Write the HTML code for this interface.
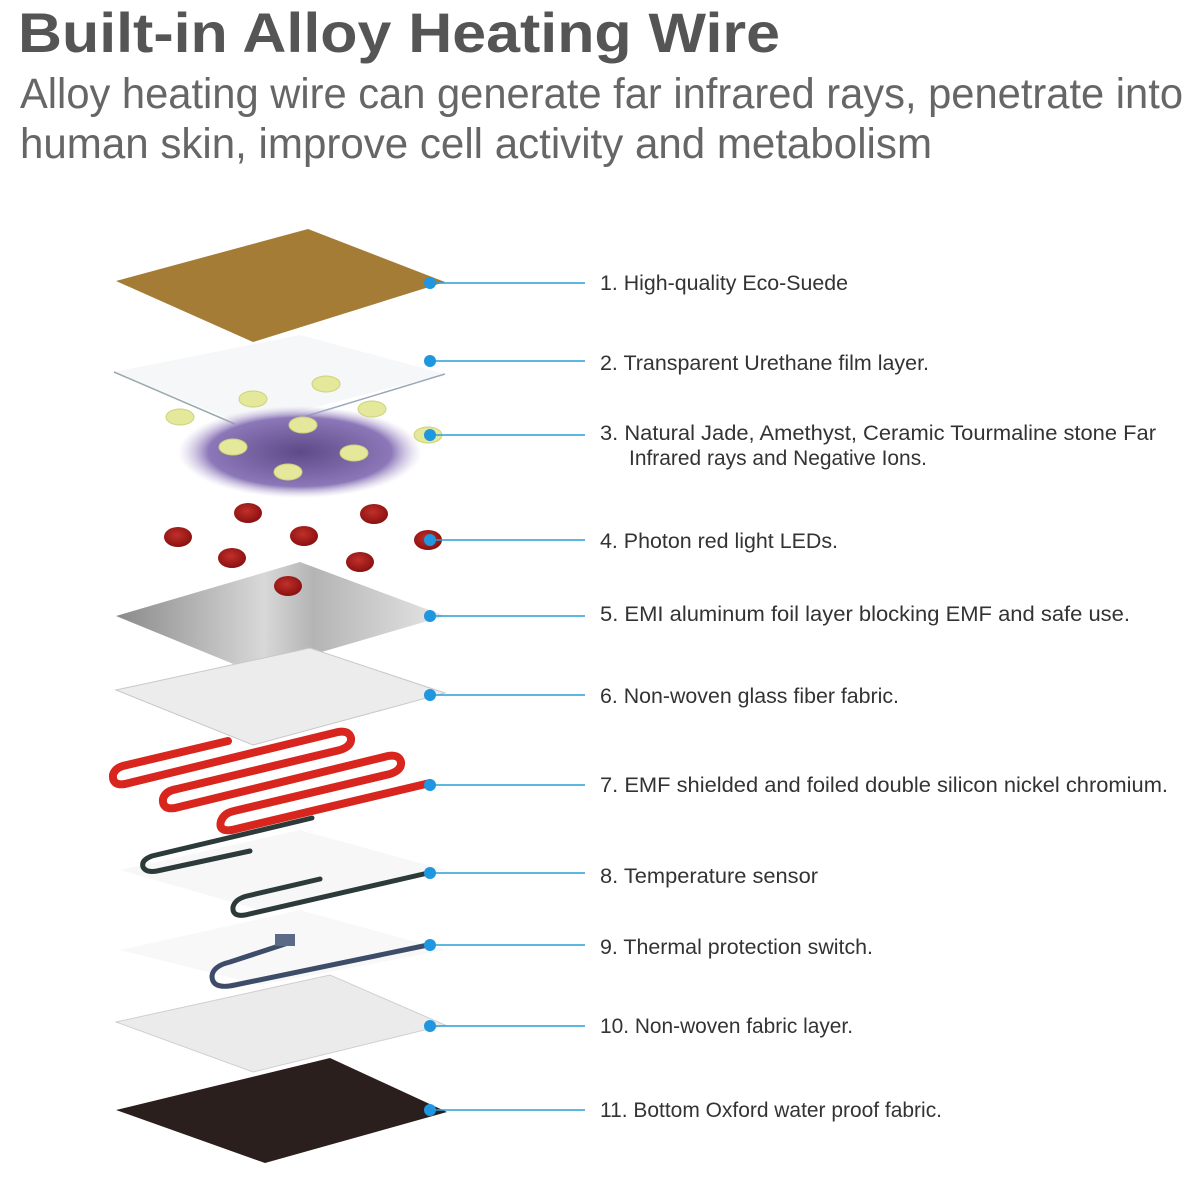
<!DOCTYPE html>
<html><head><meta charset="utf-8"><style>
html,body{margin:0;padding:0;background:#fff;}
svg{display:block;}
text{font-family:"Liberation Sans",sans-serif;}
</style></head><body>
<svg width="1200" height="1200" viewBox="0 0 1200 1200" xmlns="http://www.w3.org/2000/svg">
<defs>
<linearGradient id="al" x1="0" y1="0" x2="1" y2="0">
<stop offset="0" stop-color="#8a8a8a"/><stop offset="0.45" stop-color="#d8d8d8"/><stop offset="0.6" stop-color="#b4b4b4"/><stop offset="1" stop-color="#e6e6e6"/></linearGradient>
<radialGradient id="pur" cx="0.5" cy="0.5" r="0.5">
<stop offset="0" stop-color="#5e4a88"/><stop offset="0.75" stop-color="#8c78b8"/><stop offset="1" stop-color="#c9bfe0" stop-opacity="0"/></radialGradient>
<radialGradient id="led" cx="0.45" cy="0.4" r="0.6"><stop offset="0" stop-color="#c0302a"/><stop offset="1" stop-color="#8a1010"/></radialGradient>
</defs>
<text x="18" y="52" font-size="56" font-weight="bold" fill="#555" textLength="762" lengthAdjust="spacingAndGlyphs">Built-in Alloy Heating Wire</text>
<text x="20" y="108" font-size="43" fill="#666" textLength="1163" lengthAdjust="spacingAndGlyphs">Alloy heating wire can generate far infrared rays, penetrate into</text>
<text x="20" y="158" font-size="43" fill="#666" textLength="912" lengthAdjust="spacingAndGlyphs">human skin, improve cell activity and metabolism</text>

<polygon points="116,281 308,229 445,282 253,342" fill="#a57c35"/>
<polygon points="114,372 300,335 445,374 245,425" fill="#f6f7f8"/>
<polyline points="114,372 235,424" stroke="#9aa" stroke-width="1.5" fill="none"/>
<polyline points="445,374 300,418" stroke="#9ab" stroke-width="1.5" fill="none"/>
<ellipse cx="300" cy="452" rx="122" ry="46" fill="url(#pur)"/>
<g fill="#e3e89a" stroke="#cdd27a">
<ellipse cx="180" cy="417" rx="14" ry="8"/><ellipse cx="253" cy="399" rx="14" ry="8"/><ellipse cx="326" cy="384" rx="14" ry="8"/>
<ellipse cx="372" cy="409" rx="14" ry="8"/><ellipse cx="303" cy="425" rx="14" ry="8"/><ellipse cx="233" cy="447" rx="14" ry="8"/>
<ellipse cx="354" cy="453" rx="14" ry="8"/><ellipse cx="288" cy="472" rx="14" ry="8"/><ellipse cx="428" cy="435" rx="14" ry="8"/>
</g>
<g fill="url(#led)">
<ellipse cx="248" cy="513" rx="14" ry="10"/><ellipse cx="374" cy="514" rx="14" ry="10"/><ellipse cx="178" cy="537" rx="14" ry="10"/>
<ellipse cx="304" cy="536" rx="14" ry="10"/><ellipse cx="232" cy="558" rx="14" ry="10"/><ellipse cx="360" cy="562" rx="14" ry="10"/>
<ellipse cx="428" cy="540" rx="14" ry="10"/>
</g>
<polygon points="116,616 300,562 445,616 253,672" fill="url(#al)"/>
<ellipse cx="288" cy="586" rx="14" ry="10" fill="url(#led)"/>
<polygon points="116,690 310,648 445,693 253,745" fill="#ececec" stroke="#c8c8c8"/>
<!-- red wire -->
<path d="M430,783 L232,830 Q218,832 221,821 Q224,813 234,811 L390,774 Q402,770 401,762 Q399,754 388,756 L175,808 Q162,810 163,799 Q165,791 177,789 L340,750 Q352,746 351,738 Q349,730 338,732 L125,784 Q112,786 113,775 Q115,767 127,765 L228,741" fill="none" stroke="#d8251d" stroke-width="8" stroke-linecap="round" stroke-linejoin="round"/>
<polygon points="120,870 300,830 445,870 260,910" fill="#f7f7f7"/>
<path d="M428,873 L245,915 Q232,917 233,907 Q235,899 247,896 L320,879" fill="none" stroke="#2c3a3a" stroke-width="5" stroke-linecap="round"/>
<path d="M312,818 L152,856 Q141,860 143,867 Q146,873 157,871 L250,851" fill="none" stroke="#2c3a3a" stroke-width="5" stroke-linecap="round"/>
<polygon points="120,950 300,910 445,950 260,985" fill="#f8f8f8"/>
<path d="M428,945 L235,985 Q212,990 212,976 Q213,966 230,962 L288,943" fill="none" stroke="#3d4c68" stroke-width="5" stroke-linecap="round"/>
<rect x="275" y="934" width="20" height="12" fill="#5a6a88"/>
<polygon points="116,1022 330,975 445,1025 253,1072" fill="#ebebeb" stroke="#cfcfcf"/>
<polygon points="116,1110 330,1058 447,1112 265,1163" fill="#2b1f1d"/>

<g stroke="#2a9fd6" stroke-width="1.5">
<line x1="430" y1="283" x2="585" y2="283"/><line x1="430" y1="361" x2="585" y2="361"/><line x1="430" y1="435" x2="585" y2="435"/>
<line x1="430" y1="540" x2="585" y2="540"/><line x1="430" y1="616" x2="585" y2="616"/><line x1="430" y1="695" x2="585" y2="695"/>
<line x1="430" y1="785" x2="585" y2="785"/><line x1="430" y1="873" x2="585" y2="873"/><line x1="430" y1="945" x2="585" y2="945"/>
<line x1="430" y1="1026" x2="585" y2="1026"/><line x1="430" y1="1110" x2="585" y2="1110"/>
</g>
<g fill="#1e96e0">
<circle cx="430" cy="283" r="6"/><circle cx="430" cy="361" r="6"/><circle cx="430" cy="435" r="6"/><circle cx="430" cy="540" r="6"/>
<circle cx="430" cy="616" r="6"/><circle cx="430" cy="695" r="6"/><circle cx="430" cy="785" r="6"/><circle cx="430" cy="873" r="6"/>
<circle cx="430" cy="945" r="6"/><circle cx="430" cy="1026" r="6"/><circle cx="430" cy="1110" r="6"/>
</g>
<g font-size="21" fill="#333">
<text x="600" y="290" textLength="248" lengthAdjust="spacingAndGlyphs">1.  High-quality Eco-Suede</text>
<text x="600" y="370" textLength="329" lengthAdjust="spacingAndGlyphs">2.  Transparent Urethane film layer.</text>
<text x="600" y="440" textLength="556" lengthAdjust="spacingAndGlyphs">3.  Natural Jade, Amethyst, Ceramic  Tourmaline stone Far</text>
<text x="629" y="465" textLength="298" lengthAdjust="spacingAndGlyphs">Infrared rays and Negative Ions.</text>
<text x="600" y="548" textLength="238" lengthAdjust="spacingAndGlyphs">4.  Photon red light LEDs.</text>
<text x="600" y="621" textLength="530" lengthAdjust="spacingAndGlyphs">5.  EMI aluminum foil layer blocking EMF and safe use.</text>
<text x="600" y="703" textLength="299" lengthAdjust="spacingAndGlyphs">6.  Non-woven glass fiber fabric.</text>
<text x="600" y="792" textLength="568" lengthAdjust="spacingAndGlyphs">7.  EMF shielded and foiled double silicon nickel chromium.</text>
<text x="600" y="883" textLength="218" lengthAdjust="spacingAndGlyphs">8.  Temperature sensor</text>
<text x="600" y="954" textLength="273" lengthAdjust="spacingAndGlyphs">9.  Thermal protection switch.</text>
<text x="600" y="1033" textLength="253" lengthAdjust="spacingAndGlyphs">10. Non-woven fabric layer.</text>
<text x="600" y="1117" textLength="342" lengthAdjust="spacingAndGlyphs">11. Bottom Oxford water proof fabric.</text>
</g>
</svg>
</body></html>
